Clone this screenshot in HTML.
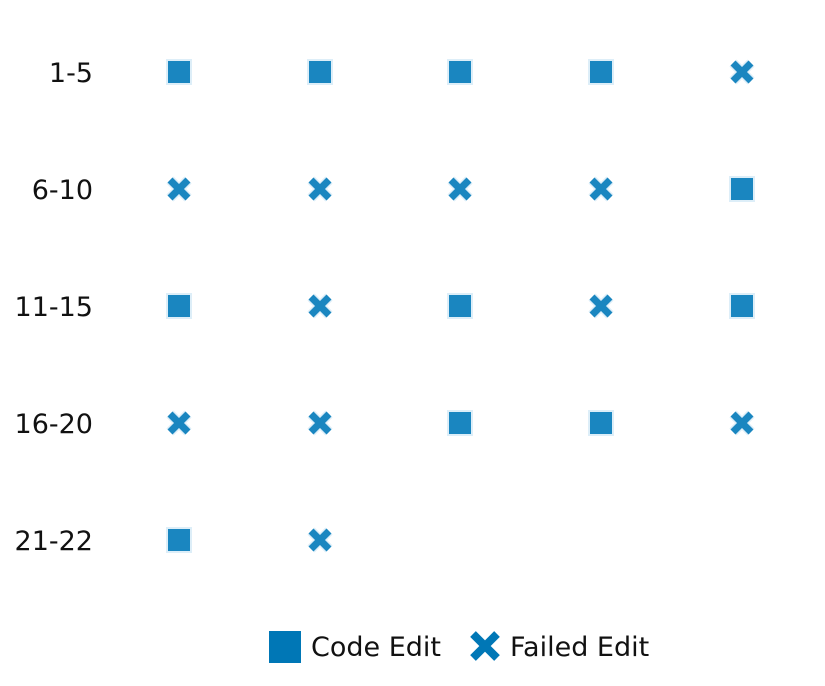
<!DOCTYPE html>
<html><head><meta charset="utf-8"><style>
body{margin:0;background:#fff}
svg{display:block}
</style></head><body>
<svg width="825" height="686" viewBox="0 0 825 686" font-family="DejaVu Sans, Liberation Sans, sans-serif" font-size="27" fill="#111">
<defs>
<g id="sq"><rect x="-13" y="-13" width="26" height="26" fill="#ddeef8"/><rect x="-11" y="-11" width="22" height="22" fill="#1a86c0"/></g>
<g id="xx"><path d="M-9,-9L9,9M9,-9L-9,9" stroke="#ddeef8" stroke-width="10"/><path d="M-9,-9L9,9M9,-9L-9,9" stroke="#1a86c0" stroke-width="7"/></g>
</defs>
<g text-anchor="end" style="font-size:27px">
<text x="93" y="82">1-5</text>
<text x="93" y="199">6-10</text>
<text x="93" y="316">11-15</text>
<text x="93" y="433">16-20</text>
<text x="93" y="550">21-22</text>
</g>
<use href="#sq" x="179" y="72"/><use href="#sq" x="320" y="72"/><use href="#sq" x="460" y="72"/><use href="#sq" x="601" y="72"/><use href="#xx" x="742" y="72"/>
<use href="#xx" x="179" y="189"/><use href="#xx" x="320" y="189"/><use href="#xx" x="460" y="189"/><use href="#xx" x="601" y="189"/><use href="#sq" x="742" y="189"/>
<use href="#sq" x="179" y="306"/><use href="#xx" x="320" y="306"/><use href="#sq" x="460" y="306"/><use href="#xx" x="601" y="306"/><use href="#sq" x="742" y="306"/>
<use href="#xx" x="179" y="423"/><use href="#xx" x="320" y="423"/><use href="#sq" x="460" y="423"/><use href="#sq" x="601" y="423"/><use href="#xx" x="742" y="423"/>
<use href="#sq" x="179" y="540"/><use href="#xx" x="320" y="540"/>
<rect x="269" y="631" width="32" height="32" fill="#0077b6"/>
<text x="311" y="656" style="font-size:27px">Code Edit</text>
<path d="M473,634L497,658M497,634L473,658" stroke="#0077b6" stroke-width="8"/>
<text x="510" y="656" style="font-size:27px">Failed Edit</text>
</svg>
</body></html>
